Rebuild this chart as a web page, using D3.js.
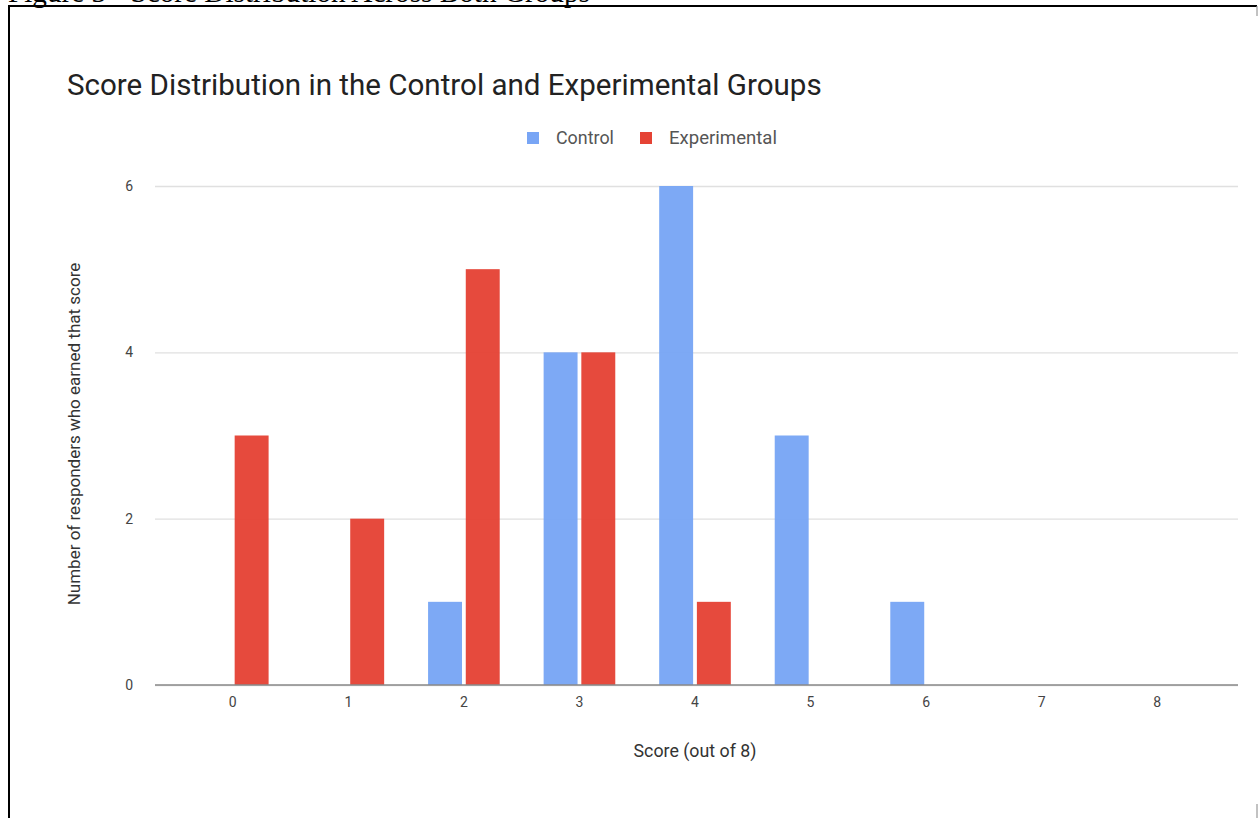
<!DOCTYPE html>
<html>
<head>
<meta charset="utf-8">
<script src="https://cdn.jsdelivr.net/npm/d3@7"></script>
<style>
  html, body { margin: 0; padding: 0; background: #fff; }
  svg { display: block; }
</style>
</head>
<body>
<script>
// Scores 0–8 and how many responders in each group earned them
const categories = ["0", "1", "2", "3", "4", "5", "6", "7", "8"];
const controlValues = [0, 0, 1, 4, 6, 3, 1, 0, 0];
const experimentalValues = [3, 2, 5, 4, 1, 0, 0, 0, 0];
const seriesNames = ["Control", "Experimental"];
const seriesColors = ["#78a5f5", "#e54335"];
const yTicks = [0, 2, 4, 6];

const W = 1258, H = 818;
const svg = d3.select("body").append("svg").attr("width", W).attr("height", H);
svg.append("rect").attr("width", W).attr("height", H).attr("fill", "#fff");

// Scale a text element's font size so it spans the given width
function fitWidth(sel, width) {
  const node = sel.node();
  const fs = parseFloat(sel.attr("font-size"));
  const w = node.getComputedTextLength();
  if (w > 0) sel.attr("font-size", (fs * width / w).toFixed(2));
  return sel;
}

// Document caption above the framed figure (its upper part runs off the page top)
fitWidth(svg.append("text")
  .attr("x", 8).attr("y", 2)
  .attr("font-family", "Liberation Serif, Times New Roman, serif")
  .attr("font-size", 22).attr("fill", "#000")
  .text("Figure 3 - Score Distribution Across Both Groups"), 582);

// Frame around the figure
svg.append("line").attr("x1", 8).attr("x2", 1257).attr("y1", 6).attr("y2", 6)
  .attr("stroke", "#000").attr("stroke-width", 2);
svg.append("line").attr("x1", 9).attr("x2", 9).attr("y1", 5).attr("y2", H)
  .attr("stroke", "#000").attr("stroke-width", 2);
svg.append("line").attr("x1", 1257).attr("x2", 1257).attr("y1", 6).attr("y2", 16)
  .attr("stroke", "#999").attr("stroke-width", 1.2);
svg.append("line").attr("x1", 1257).attr("x2", 1257).attr("y1", 804).attr("y2", H)
  .attr("stroke", "#999").attr("stroke-width", 1.2);

const font = "Roboto, Arial, sans-serif";

// Chart title
fitWidth(svg.append("text")
  .attr("x", 67).attr("y", 95)
  .attr("font-family", font).attr("font-size", 25).attr("fill", "#222")
  .text("Score Distribution in the Control and Experimental Groups"), 755);

// Legend
const legendItems = [
  { x: 527, tx: 556, w: 58 },
  { x: 640, tx: 669, w: 108 }
];
seriesNames.forEach((name, i) => {
  const it = legendItems[i];
  svg.append("rect").attr("x", it.x).attr("y", 132).attr("width", 12).attr("height", 12)
    .attr("fill", seriesColors[i]);
  fitWidth(svg.append("text").attr("x", it.tx).attr("y", 143.5)
    .attr("font-family", font).attr("font-size", 14).attr("fill", "#555")
    .text(name), it.w);
});

// Scales
const plotLeft = 155, plotRight = 1238;
const x0 = d3.scaleBand().domain(categories).range([175, 1215])
  .paddingInner(0.38).paddingOuter(0.19);
const x1 = d3.scaleBand().domain(seriesNames).range([0, x0.bandwidth()])
  .paddingInner(0.1).paddingOuter(0);
const y = d3.scaleLinear().domain([0, 6]).range([685, 186]);

// Y axis with gridlines
const yAxis = svg.append("g").attr("transform", `translate(${plotLeft},0)`)
  .call(d3.axisLeft(y).tickValues(yTicks).tickFormat(d3.format("d"))
    .tickSize(-(plotRight - plotLeft)).tickPadding(22));
yAxis.select(".domain").remove();
yAxis.selectAll(".tick line").attr("stroke", "#e0e0e0").attr("stroke-width", 1.3);
yAxis.selectAll(".tick text").attr("font-family", font).attr("font-size", 14).attr("fill", "#444");

// Bars
const series = [controlValues, experimentalValues];
const groups = svg.append("g").selectAll("g").data(categories).join("g")
  .attr("transform", d => `translate(${x0(d)},0)`);
groups.selectAll("rect")
  .data((d, i) => seriesNames.map((s, k) => ({ s, k, v: series[k][i] })))
  .join("rect")
  .filter(d => d.v > 0)
  .attr("x", d => x1(d.s))
  .attr("y", d => y(d.v))
  .attr("width", x1.bandwidth())
  .attr("height", d => y(0) - y(d.v))
  .attr("fill", d => seriesColors[d.k])
  .attr("fill-opacity", 0.96);

// Baseline
svg.append("line").attr("x1", plotLeft).attr("x2", plotRight)
  .attr("y1", y(0)).attr("y2", y(0))
  .attr("stroke", "#8a8a8a").attr("stroke-width", 1.6);

// X axis labels
const xAxis = svg.append("g").attr("transform", `translate(0,${y(0)})`)
  .call(d3.axisBottom(x0).tickSize(0).tickPadding(12));
xAxis.select(".domain").remove();
xAxis.selectAll(".tick text").attr("font-family", font).attr("font-size", 14).attr("fill", "#444");

// Axis titles
fitWidth(svg.append("text")
  .attr("x", 695).attr("y", 757).attr("text-anchor", "middle")
  .attr("font-family", font).attr("font-size", 14).attr("fill", "#333")
  .text("Score (out of 8)"), 123);

fitWidth(svg.append("text")
  .attr("transform", "translate(80,434) rotate(-90)").attr("text-anchor", "middle")
  .attr("font-family", font).attr("font-size", 14).attr("fill", "#333")
  .text("Number of responders who earned that score"), 343);
</script>
</body>
</html>
